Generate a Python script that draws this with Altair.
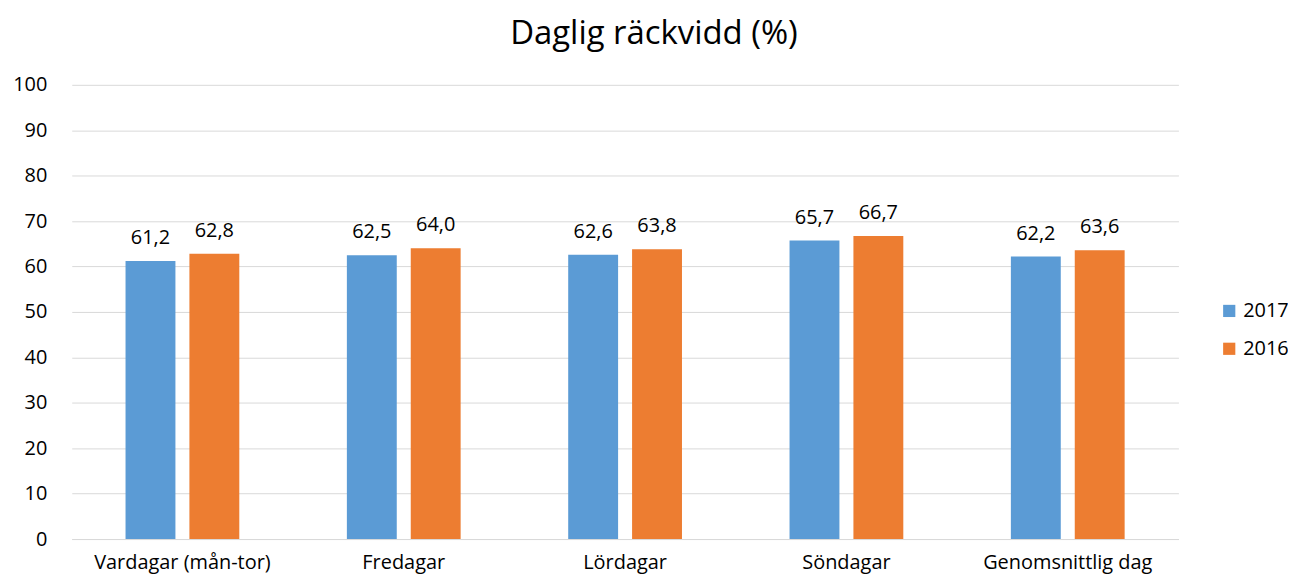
import altair as alt
import pandas as pd

categories = ["Vardagar (mån-tor)", "Fredagar", "Lördagar", "Söndagar", "Genomsnittlig dag"]
values_2017 = [61.2, 62.5, 62.6, 65.7, 62.2]
values_2016 = [62.8, 64.0, 63.8, 66.7, 63.6]
series = ["2017", "2016"]

rows = []
for i, c in enumerate(categories):
    rows.append({"cat": c, "year": "2017", "v": values_2017[i]})
    rows.append({"cat": c, "year": "2016", "v": values_2016[i]})
df = pd.DataFrame(rows)

FONT = "Open Sans"
colors = ["#5B9BD5", "#ED7D31"]

x = alt.X("cat:N", sort=categories, title=None,
          scale=alt.Scale(paddingInner=0.486, paddingOuter=0.243),
          axis=alt.Axis(labelAngle=0, labelFontSize=20, labelFont=FONT, labelColor="#000000",
                        ticks=False, domainColor="#d9d9d9", domainWidth=1, labelPadding=14))
xo = alt.XOffset("year:N", sort=series,
                 scale=alt.Scale(paddingInner=0.219, paddingOuter=0))

base = alt.Chart(df).encode(x=x, xOffset=xo)

bars = base.mark_bar().encode(
    y=alt.Y("v:Q", title=None,
            scale=alt.Scale(domain=[0, 100]),
            axis=alt.Axis(values=list(range(0, 101, 10)), labelFontSize=20, labelFont=FONT,
                          labelColor="#000000", ticks=False, domain=False, gridColor="#d9d9d9",
                          gridWidth=1, labelPadding=25)),
    color=alt.Color("year:N", sort=series, scale=alt.Scale(domain=series, range=colors),
                    legend=alt.Legend(title=None, orient="none", legendX=1152, legendY=217,
                                      symbolType="square", symbolSize=150, symbolStrokeWidth=0,
                                      labelFontSize=20, labelFont=FONT, labelColor="#000000",
                                      rowPadding=18, symbolOffset=0)),
)

labels = base.mark_text(fontSize=20, font=FONT, color="#000000", baseline="alphabetic", dy=-17).transform_calculate(
    lab="replace(format(datum.v, '.1f'), '.', ',')"
).encode(
    y=alt.Y("v:Q"),
    text="lab:N",
)

chart = (bars + labels).properties(
    width=1111, height=456,
    title=alt.TitleParams("Daglig räckvidd (%)", fontSize=33, font=FONT, fontWeight="normal",
                          color="#000000", anchor="middle", dx=29, offset=24),
    padding={"left": 64, "top": 76, "right": 110, "bottom": 40},
    autosize=alt.AutoSizeParams(type="none"),
).configure_view(stroke=None)

chart.save("out.html", embed_options={"renderer": "svg", "actions": False})
